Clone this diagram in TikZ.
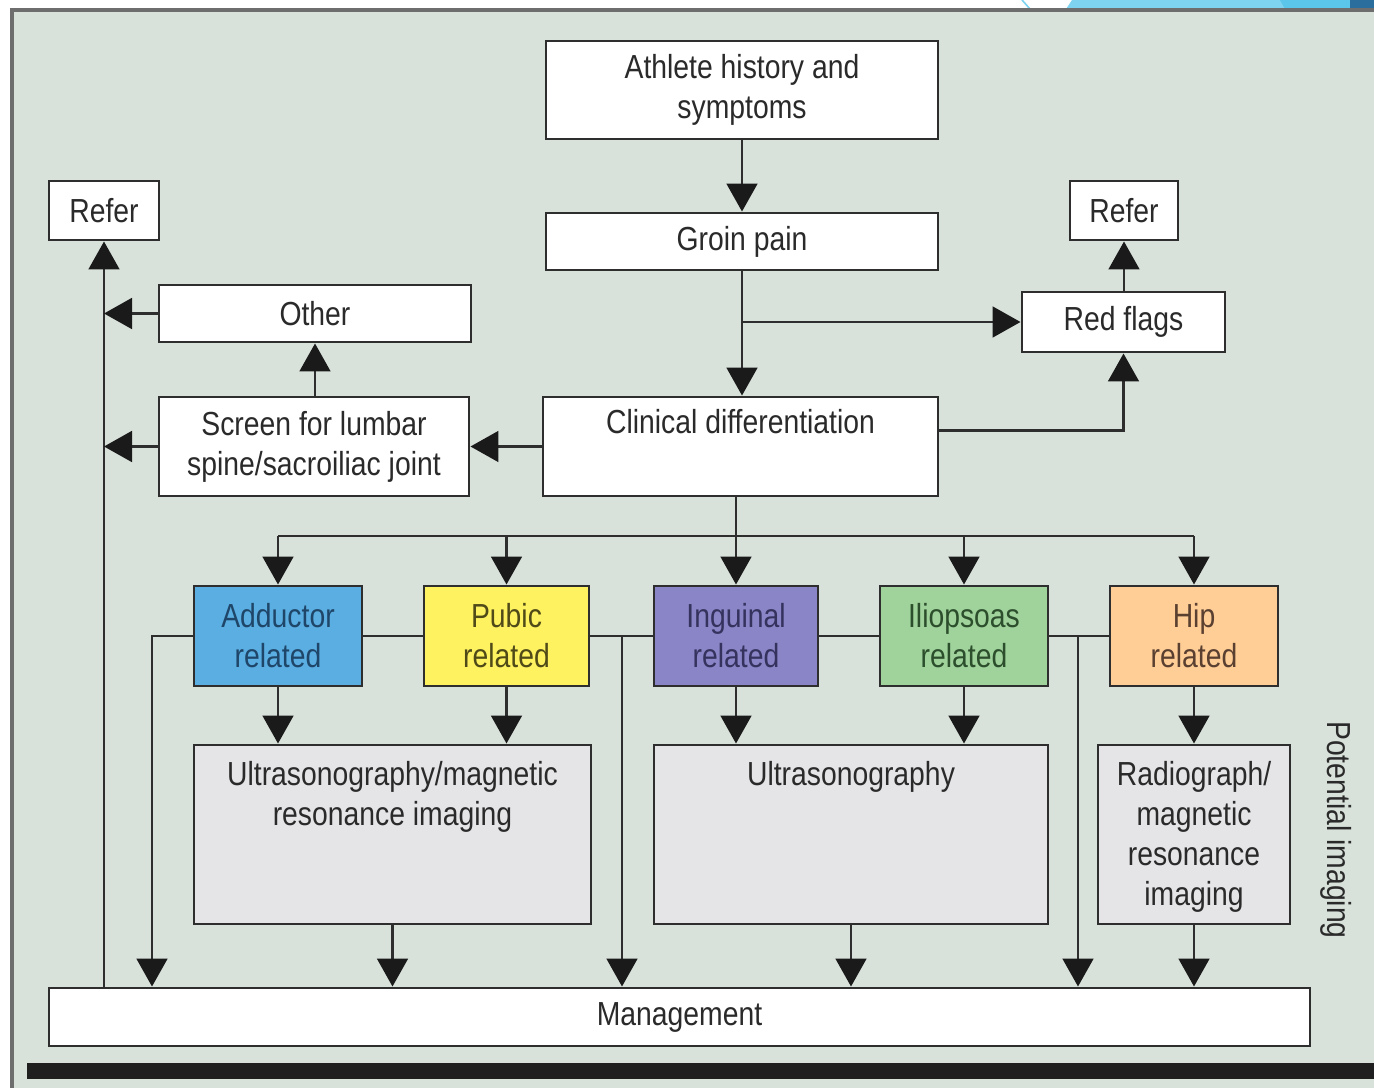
\documentclass[tikz,border=0pt]{standalone}
\usepackage{fontspec}
\setmainfont{Liberation Sans}[FakeStretch=0.85]
\usetikzlibrary{arrows.meta,calc}
\definecolor{bg}{HTML}{D8E1DA}
\definecolor{frame}{HTML}{6E6E6E}
\definecolor{bord}{HTML}{2E2E2E}
\definecolor{txt}{HTML}{2A2A2A}
\definecolor{imgfill}{HTML}{E5E5E8}
\definecolor{cadd}{HTML}{5AAEE2}
\definecolor{cpub}{HTML}{FFF260}
\definecolor{cing}{HTML}{8985C6}
\definecolor{cili}{HTML}{9FD39B}
\definecolor{chip}{HTML}{FFCD96}
\definecolor{tadd}{HTML}{1F4668}
\definecolor{tpub}{HTML}{4F4A18}
\definecolor{ting}{HTML}{35325E}
\definecolor{tili}{HTML}{2C4E2C}
\definecolor{thip}{HTML}{5A4030}
\definecolor{lblue}{HTML}{7DD3F0}
\definecolor{mblue}{HTML}{5CC6EA}
\definecolor{dblue}{HTML}{2A6E9E}
\definecolor{tipc}{HTML}{1A1A1A}
\newcommand\bx[7]{\node[#6, minimum width={(#4-#2)*0.75pt}, minimum height={(#5-#3)*0.75pt}] (#1) at ({(#2+#4)/2},{(#3+#5)/2}) {#7};}
\tikzset{
  box/.style={draw=bord, line width=2.2pt, fill=white, inner sep=0pt, align=center, text=txt},
  cbox/.style={box, fill=#1},
  imgbox/.style={box, fill=imgfill},
  lbl/.style={inner sep=0pt, align=center, text=txt},
  conn/.style={draw=bord, line width=2.2pt},
  arr/.style={conn, -{Triangle[width=23pt,length=21pt,color=tipc,fill=tipc]}},
}
\begin{document}
\begin{tikzpicture}[x={(0.75pt,0)}, y={(0,-0.75pt)}, font=\fontsize{25}{30}\selectfont]
\useasboundingbox (0,0) rectangle (1374,1088);
% top-right decoration
\fill[white] (0,0) rectangle (1374,10);
\fill[lblue] (1072,0) -- (1374,0) -- (1374,9) -- (1066,9) -- cycle;
\draw[lblue, line width=1.2pt] (1022,0) -- (1030,9);
\fill[mblue] (1280,0) -- (1350,0) -- (1350,9) -- (1285,9) -- cycle;
\fill[dblue] (1350,0) rectangle (1374,9);
% frame and background
\fill[bg] (12,10) rectangle (1374,1088);
\fill[frame] (10,8) rectangle (1374,12);
\fill[frame] (10,8) rectangle (14,1088);
\fill[black!88] (27,1063) rectangle (1374,1079);

% nodes
\bx{ath}{546}{41}{938}{139}{box}{Athlete history and\\symptoms}
\bx{groin}{546}{213}{938}{270}{box}{Groin pain}
\bx{referL}{49}{181}{159}{240}{box}{Refer}
\bx{referR}{1070}{181}{1178}{240}{box}{Refer}
\bx{redf}{1022}{292}{1225}{352}{box}{Red flags}
\bx{other}{159}{285}{471}{342}{box}{Other}
\bx{screen}{159}{397}{469}{496}{box}{Screen for lumbar\\spine/sacroiliac joint}
\bx{clin}{543}{397}{938}{496}{box}{}
\node[lbl, anchor=north] (clint) at ([yshift=-10pt]clin.north) {Clinical differentiation};

\bx{add}{194}{586}{362}{686}{cbox=cadd, text=tadd}{Adductor\\related}
\bx{pub}{424}{586}{589}{686}{cbox=cpub, text=tpub}{Pubic\\related}
\bx{ing}{654}{586}{818}{686}{cbox=cing, text=ting}{Inguinal\\related}
\bx{ili}{880}{586}{1048}{686}{cbox=cili, text=tili}{Iliopsoas\\related}
\bx{hip}{1110}{586}{1278}{686}{cbox=chip, text=thip}{Hip\\related}

\bx{usmri}{194}{745}{591}{924}{imgbox}{}
\node[lbl, anchor=north] (usmrit) at ([yshift=-13pt]usmri.north) {Ultrasonography/magnetic\\resonance imaging};
\bx{us}{654}{745}{1048}{924}{imgbox}{}
\node[lbl, anchor=north] (ust) at ([yshift=-13pt]us.north) {Ultrasonography};
\bx{rad}{1098}{745}{1290}{924}{imgbox}{}
\node[lbl, anchor=north] (radt) at ([yshift=-13pt]rad.north) {Radiograph/\\magnetic\\resonance\\imaging};

\bx{mgmt}{49}{988}{1310}{1046}{box}{Management}

\node[lbl, rotate=-90] (pot) at (1336,830) {Potential imaging};

% connectors
\draw[arr] (ath) -- (groin);
\draw[arr] (groin.south) -- (groin.south |- clin.north);
\draw[arr] (groin.south |- redf.west) -- (redf.west);
\draw[arr] ([yshift=12pt]clin.east) -| (redf.south);
\draw[arr] (redf.north -| referR.south) -- (referR.south);
\draw[arr] (clin.west) -- (screen.east);
\draw[arr] (screen.north -| other.south) -- (other.south);
\draw[arr] (referL.south |- mgmt.north) -- (referL.south);
\draw[arr] (other.west) -- (other.west -| referL.south);
\draw[arr] (screen.west) -- (screen.west -| referL.south);

% bus to related boxes
\draw[arr] (ing.north |- clin.south) -- (ing.north);
\draw[conn] (add.north |- 0,536) -- (hip.north |- 0,536);
\draw[arr] (add.north |- 0,536) -- (add.north);
\draw[arr] (pub.north |- 0,536) -- (pub.north);
\draw[arr] (ili.north |- 0,536) -- (ili.north);
\draw[arr] (hip.north |- 0,536) -- (hip.north);

% related to imaging
\draw[arr] (add.south) -- (add.south |- usmri.north);
\draw[arr] (pub.south) -- (pub.south |- usmri.north);
\draw[arr] (ing.south) -- (ing.south |- us.north);
\draw[arr] (ili.south) -- (ili.south |- us.north);
\draw[arr] (hip.south) -- (hip.south |- rad.north);

% imaging to management
\draw[arr] (usmri.south) -- (usmri.south |- mgmt.north);
\draw[arr] (us.south) -- (us.south |- mgmt.north);
\draw[arr] (rad.south) -- (rad.south |- mgmt.north);

% side links
\draw[conn] (add.east) -- (pub.west);
\draw[conn] (ing.east) -- (ili.west);
\draw[conn] (pub.east) -- (ing.west);
\draw[conn] (ili.east) -- (hip.west);
\draw[arr] (add.west) -| (152,0 |- mgmt.north);
\draw[arr] (622,0 |- pub.east) -- (622,0 |- mgmt.north);
\draw[arr] (1078,0 |- ili.east) -- (1078,0 |- mgmt.north);
\end{tikzpicture}
\end{document}
